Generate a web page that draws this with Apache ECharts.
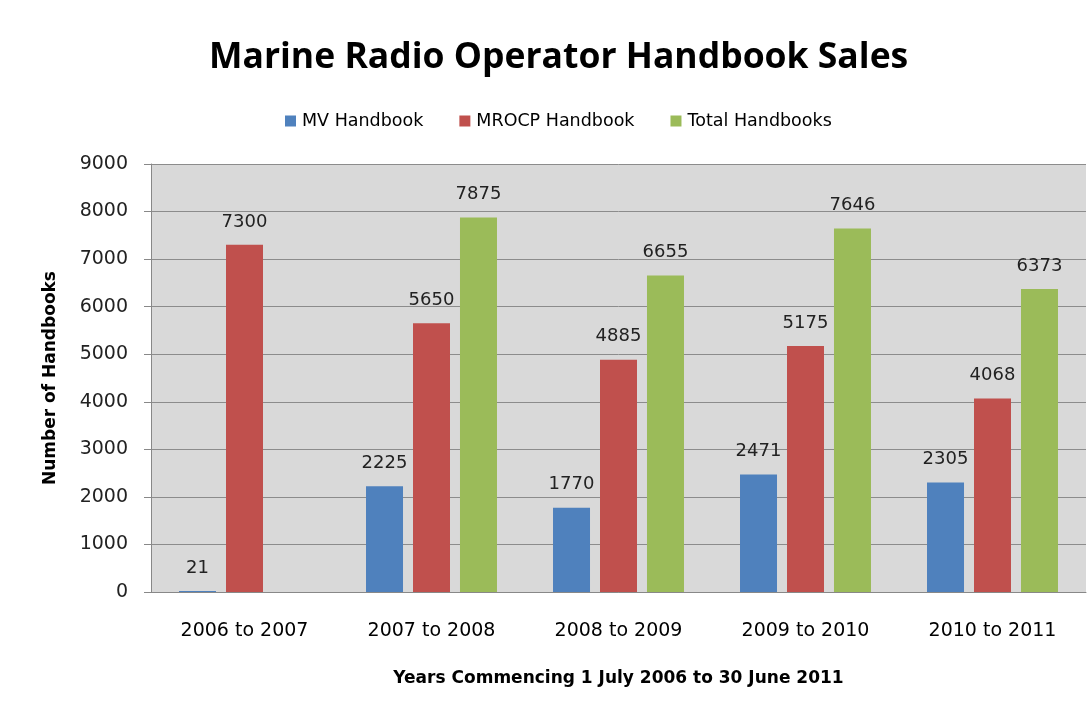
<!DOCTYPE html>
<html><head><meta charset="utf-8">
<script src="https://cdn.jsdelivr.net/npm/echarts@6/dist/echarts.min.js"></script>
<style>html,body{margin:0;padding:0;background:#fff}#c{width:1092px;height:706px}</style>
</head><body><div id="c"></div>
<script>
const categories = ['2006 to 2007','2007 to 2008','2008 to 2009','2009 to 2010','2010 to 2011'];
const mvHandbook = [21, 2225, 1770, 2471, 2305];
const mrocpHandbook = [7300, 5650, 4885, 5175, 4068];
const totalHandbooks = [null, 7875, 6655, 7646, 6373];
const seriesNames = ['MV Handbook','MROCP Handbook','Total Handbooks'];
const colors = ['#4F81BD','#C0504D','#9BBB59'];

const chart = echarts.init(document.getElementById('c'));
const lbl = {show:true, position:'top', distance:14, color:'#222', fontFamily:'DejaVu Sans', fontSize:18};
const mk = (name, data, i) => ({
  name, type:'bar', data, barWidth:37, barGap:'27%',
  itemStyle:{color:colors[i]}, label:lbl
});
chart.setOption({
  animation:false,
  title:{text:'Marine Radio Operator Handbook Sales', left:204, top:35,
    textStyle:{fontFamily:'Open Sans', fontWeight:'bold', fontSize:35.5, color:'#000'}},
  legend:{top:107, left:280, itemWidth:11, itemHeight:11, itemGap:36,
    icon:'rect', textStyle:{fontFamily:'DejaVu Sans', fontSize:17.5, color:'#000', padding:[0,0,0,1]}},
  grid:{left:151, right:6, top:164, bottom:114, backgroundColor:'#D9D9D9', show:true, borderWidth:0},
  xAxis:{type:'category', data:categories,
    axisLine:{lineStyle:{color:'#888'}}, axisTick:{show:false},
    axisLabel:{margin:30, fontFamily:'DejaVu Sans', fontSize:19, color:'#000'},
    name:'Years Commencing 1 July 2006 to 30 June 2011', nameLocation:'middle', nameGap:78,
    nameTextStyle:{fontFamily:'DejaVu Sans', fontWeight:'bold', fontSize:17, color:'#000'}},
  yAxis:{type:'value', min:0, max:9000, interval:1000,
    axisLine:{show:true, lineStyle:{color:'#888'}}, axisTick:{show:true, length:7, lineStyle:{color:'#888'}},
    splitLine:{lineStyle:{color:'#8c8c8c'}},
    axisLabel:{margin:23, fontFamily:'DejaVu Sans', fontSize:19, color:'#222', formatter:v=>String(v)},
    name:'Number of Handbooks', nameLocation:'middle', nameGap:92,
    nameTextStyle:{fontFamily:'DejaVu Sans', fontWeight:'bold', fontSize:17, color:'#000'}},
  series:[mk(seriesNames[0], mvHandbook, 0), mk(seriesNames[1], mrocpHandbook, 1), mk(seriesNames[2], totalHandbooks, 2)]
});
</script></body></html>
